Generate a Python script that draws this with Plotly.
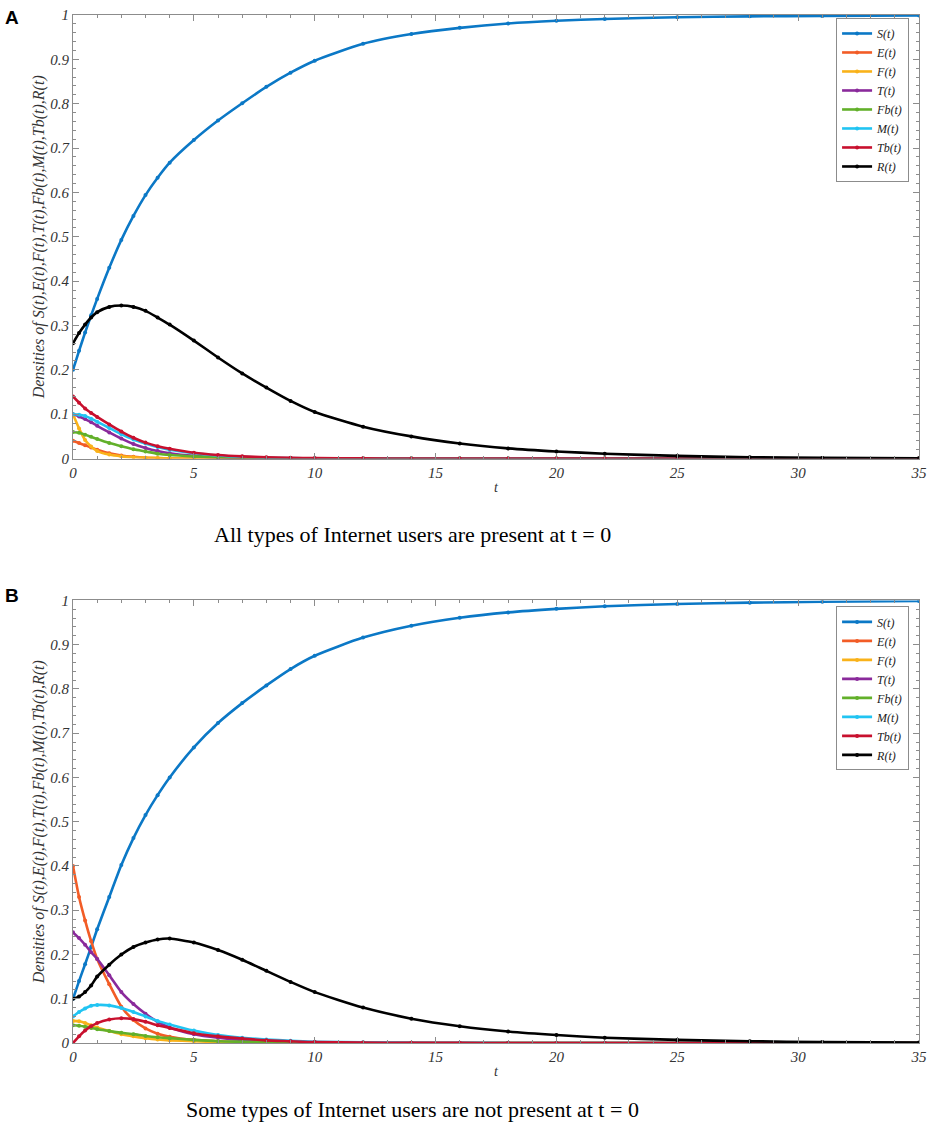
import plotly.graph_objects as go
from plotly.subplots import make_subplots

# time points the values were read at
t_vals = [0, 0.25, 0.5, 0.75, 1, 1.5, 2, 2.5, 3, 3.5, 4, 5, 6, 7, 8, 9, 10,
          12, 14, 16, 18, 20, 22, 25, 28, 31, 35]

names = ["S(t)", "E(t)", "F(t)", "T(t)", "Fb(t)", "M(t)", "Tb(t)", "R(t)"]
colors = ["#0b78c6", "#f25c26", "#f9b21a", "#8a2a9b", "#62b02a", "#21c4f2", "#c8102e", "#000000"]

# panel A: all user types present at t = 0
S_a = [0.2, 0.243, 0.284, 0.323, 0.36, 0.43, 0.493, 0.547, 0.594, 0.633, 0.667, 0.718, 0.762, 0.801,
       0.838, 0.87, 0.897, 0.935, 0.957, 0.971, 0.981, 0.987, 0.991, 0.995, 0.997, 0.998, 0.999]
E_a = [0.04, 0.035, 0.03, 0.025, 0.02, 0.012, 0.007, 0.004, 0.002, 0.001, 0.0005, 0.0002, 0, 0,
       0, 0, 0, 0, 0, 0, 0, 0, 0, 0, 0, 0, 0]
F_a = [0.1, 0.068, 0.042, 0.027, 0.017, 0.009, 0.005, 0.003, 0.002, 0.001, 0.0005, 0.0002, 0, 0,
       0, 0, 0, 0, 0, 0, 0, 0, 0, 0, 0, 0, 0]
T_a = [0.1, 0.095, 0.089, 0.082, 0.074, 0.059, 0.045, 0.033, 0.024, 0.017, 0.012, 0.006, 0.003, 0.0015,
       0.0008, 0.0004, 0.0002, 0, 0, 0, 0, 0, 0, 0, 0, 0, 0]
Fb_a = [0.06, 0.058, 0.054, 0.049, 0.044, 0.035, 0.028, 0.021, 0.016, 0.011, 0.008, 0.005, 0.003, 0.002,
        0.001, 0.0005, 0.0003, 0, 0, 0, 0, 0, 0, 0, 0, 0, 0]
M_a = [0.1, 0.099, 0.096, 0.09, 0.083, 0.069, 0.055, 0.043, 0.034, 0.026, 0.02, 0.012, 0.007, 0.004,
       0.002, 0.001, 0.0006, 0.0002, 0, 0, 0, 0, 0, 0, 0, 0, 0]
Tb_a = [0.14, 0.126, 0.113, 0.103, 0.094, 0.077, 0.061, 0.047, 0.036, 0.028, 0.022, 0.013, 0.008, 0.005,
        0.003, 0.002, 0.001, 0.0005, 0.0002, 0, 0, 0, 0, 0, 0, 0, 0]
R_a = [0.26, 0.283, 0.302, 0.318, 0.33, 0.342, 0.345, 0.342, 0.333, 0.318, 0.302, 0.266, 0.228, 0.192,
       0.16, 0.13, 0.105, 0.072, 0.05, 0.034, 0.023, 0.016, 0.011, 0.006, 0.003, 0.0015, 0.0005]

# panel B: some user types absent at t = 0
S_b = [0.1, 0.14, 0.178, 0.217, 0.257, 0.33, 0.402, 0.463, 0.515, 0.56, 0.6, 0.668, 0.723, 0.768,
       0.808, 0.845, 0.875, 0.916, 0.943, 0.961, 0.973, 0.981, 0.987, 0.992, 0.995, 0.997, 0.999]
E_b = [0.4, 0.33, 0.277, 0.23, 0.19, 0.133, 0.082, 0.052, 0.033, 0.021, 0.014, 0.007, 0.004, 0.002,
       0.001, 0.0005, 0.0002, 0, 0, 0, 0, 0, 0, 0, 0, 0, 0]
F_b = [0.05, 0.049, 0.045, 0.04, 0.035, 0.027, 0.02, 0.015, 0.011, 0.008, 0.006, 0.004, 0.002, 0.001,
       0.0005, 0.0002, 0, 0, 0, 0, 0, 0, 0, 0, 0, 0, 0]
T_b = [0.25, 0.237, 0.222, 0.205, 0.19, 0.153, 0.115, 0.088, 0.066, 0.048, 0.035, 0.02, 0.012, 0.007,
       0.004, 0.002, 0.001, 0.0005, 0.0002, 0, 0, 0, 0, 0, 0, 0, 0]
Fb_b = [0.04, 0.039, 0.037, 0.034, 0.031, 0.027, 0.023, 0.02, 0.016, 0.013, 0.011, 0.007, 0.004, 0.003,
        0.002, 0.001, 0.0005, 0.0002, 0, 0, 0, 0, 0, 0, 0, 0, 0]
M_b = [0.06, 0.07, 0.078, 0.084, 0.086, 0.085, 0.079, 0.07, 0.06, 0.05, 0.042, 0.028, 0.018, 0.012,
       0.008, 0.005, 0.003, 0.0015, 0.0007, 0.0003, 0.0001, 0, 0, 0, 0, 0, 0]
Tb_b = [0, 0.015, 0.028, 0.038, 0.045, 0.053, 0.056, 0.054, 0.048, 0.04, 0.034, 0.022, 0.015, 0.01,
        0.006, 0.004, 0.002, 0.001, 0.0005, 0.0002, 0, 0, 0, 0, 0, 0, 0]
R_b = [0.1, 0.105, 0.115, 0.13, 0.15, 0.177, 0.2, 0.217, 0.227, 0.234, 0.236, 0.227, 0.21, 0.188,
       0.163, 0.138, 0.115, 0.08, 0.055, 0.038, 0.026, 0.018, 0.012, 0.007, 0.004, 0.002, 0.001]

series_a = [S_a, E_a, F_a, T_a, Fb_a, M_a, Tb_a, R_a]
series_b = [S_b, E_b, F_b, T_b, Fb_b, M_b, Tb_b, R_b]

x_ticks = [0, 5, 10, 15, 20, 25, 30, 35]
y_ticks = [0, 0.1, 0.2, 0.3, 0.4, 0.5, 0.6, 0.7, 0.8, 0.9, 1]
y_labels = ["0", "0.1", "0.2", "0.3", "0.4", "0.5", "0.6", "0.7", "0.8", "0.9", "1"]

captions = ["All types of Internet users are present at t = 0",
            "Some types of Internet users are not present at t = 0"]
ytitle = "Densities of S(t),E(t),F(t),T(t),Fb(t),M(t),Tb(t),R(t)"

serif = "Liberation Serif, Times New Roman, serif"
gray = "#8c8c8c"

fig = make_subplots(rows=2, cols=1)

for row, (series, leg) in enumerate([(series_a, "legend"), (series_b, "legend2")], start=1):
    for name, col, vals in zip(names, colors, series):
        fig.add_trace(go.Scatter(
            x=t_vals, y=vals, name="<i>%s</i>" % name, mode="lines+markers",
            line=dict(color=col, width=2.6, shape="spline", smoothing=0.6),
            marker=dict(color=col, size=4),
            legend=leg,
        ), row=row, col=1)

axis_style = dict(
    showline=True, linecolor=gray, linewidth=1, mirror="ticks",
    ticks="inside", ticklen=6, tickcolor=gray, showgrid=False, zeroline=False,
    tickfont=dict(family=serif, size=15, color="#333333"),
)

fig.update_xaxes(axis_style, range=[0, 35],
                 tickvals=x_ticks, ticktext=["<i>%d</i>" % v for v in x_ticks],
                 minor=dict(ticks="inside", ticklen=3, dtick=1, tickcolor=gray),
                 title=dict(text="<i>t</i>", font=dict(family=serif, size=14, color="#333333"),
                            standoff=2))
fig.update_yaxes(axis_style, range=[0, 1],
                 tickvals=y_ticks, ticktext=["<i>%s</i>" % s for s in y_labels],
                 minor=dict(ticks="inside", ticklen=3, dtick=0.02, tickcolor=gray),
                 title=dict(text="<i>%s</i>" % ytitle, font=dict(family=serif, size=16, color="#333333"),
                            standoff=1))

# panel letters, captions and legends are placed by pixel position
pw, ph = 934 - 73 - 9, 1142 - 7 - 99


def px(x):
    return (x - 73) / pw


def py(y):
    return (1142 - 99 - y) / ph


legend_style = dict(
    xanchor="right", yanchor="top", x=px(915),
    bgcolor="white", bordercolor=gray, borderwidth=1,
    font=dict(family=serif, size=12, color="#222222"),
    tracegroupgap=0, itemwidth=30,
)

fig.update_layout(
    width=934, height=1142,
    margin=dict(l=73, r=9, t=7, b=99),
    paper_bgcolor="white", plot_bgcolor="white",
    xaxis=dict(domain=[0, 1]), xaxis2=dict(domain=[0, 1]),
    yaxis=dict(domain=[0.5685, 1.0]), yaxis2=dict(domain=[0.0, 0.4305]),
    legend=dict(legend_style, y=py(10)),
    legend2=dict(legend_style, y=py(603)),
)

for letter, ly in [("A", 10), ("B", 592)]:
    fig.add_annotation(text="<b>%s</b>" % letter, x=px(2), y=py(ly), xref="paper", yref="paper",
                       xanchor="left", yanchor="middle", showarrow=False,
                       font=dict(family="Liberation Sans, Arial", size=19, color="black"))
for cap, cy in zip(captions, [531, 1110]):
    fig.add_annotation(text=cap, x=px(415), y=py(cy), xref="paper", yref="paper",
                       xanchor="center", yanchor="middle", showarrow=False,
                       font=dict(family=serif, size=22, color="black"))

# the page body has a default 8px margin; drop it so the figure sits at the window corner
fig.write_html("out.html", config={"displayModeBar": False},
               post_script="document.body.style.margin='0px';")
